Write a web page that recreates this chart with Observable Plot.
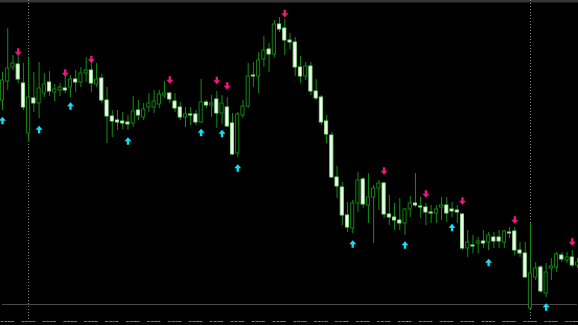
<!DOCTYPE html>
<html>
<head>
<meta charset="utf-8">
<script src="https://cdn.jsdelivr.net/npm/d3@7"></script>
<script src="https://cdn.jsdelivr.net/npm/@observablehq/plot@0.6"></script>
<style>
  html, body { margin: 0; padding: 0; background: #000; overflow: hidden; }
  #chart svg { display: block; background: #000; }
</style>
</head>
<body>
<div id="chart"></div>
<script>
// M15 candles
const open = [1.0900,1.0919,1.0933,1.0936,1.0917,1.0867,1.0902,1.0897,1.0907,1.0918,
  1.0908,1.0910,1.0912,1.0913,1.0921,1.0918,1.0927,1.0930,1.0916,1.0922,
  1.0900,1.0884,1.0880,1.0879,1.0878,1.0877,1.0890,1.0883,1.0893,1.0893,
  1.0896,1.0905,1.0907,1.0899,1.0893,1.0883,1.0886,1.0886,1.0878,1.0898,
  1.0895,1.0901,1.0887,1.0893,1.0877,1.0847,1.0885,1.0894,1.0925,1.0924,
  1.0941,1.0951,1.0946,1.0976,1.0972,1.0960,1.0958,1.0933,1.0924,1.0934,
  1.0909,1.0903,1.0879,1.0865,1.0823,1.0813,1.0785,1.0772,1.0797,1.0821,
  1.0795,1.0803,1.0812,1.0817,1.0786,1.0783,1.0780,1.0777,1.0791,1.0797,
  1.0794,1.0793,1.0788,1.0787,1.0793,1.0795,1.0791,1.0790,1.0786,1.0752,
  1.0755,1.0757,1.0759,1.0758,1.0763,1.0763,1.0758,1.0768,1.0769,1.0750,
  1.0747,1.0692,1.0723,1.0733,1.0707,1.0732,1.0733,1.0745,1.0740,1.0743,
  1.0735];
const high = [1.0928,1.0972,1.0945,1.0945,1.0937,1.0942,1.0928,1.0938,1.0927,1.0929,
  1.0916,1.0917,1.0926,1.0925,1.0930,1.0933,1.0943,1.0937,1.0937,1.0926,
  1.0913,1.0890,1.0890,1.0888,1.0885,1.0904,1.0900,1.0897,1.0907,1.0910,
  1.0910,1.0919,1.0908,1.0907,1.0898,1.0893,1.0893,1.0890,1.0921,1.0900,
  1.0905,1.0909,1.0905,1.0903,1.0887,1.0888,1.0900,1.0937,1.0938,1.0948,
  1.0964,1.0957,1.0980,1.0983,1.0981,1.0967,1.0963,1.0944,1.0938,1.0938,
  1.0921,1.0905,1.0885,1.0868,1.0834,1.0818,1.0798,1.0800,1.0828,1.0823,
  1.0827,1.0815,1.0820,1.0818,1.0805,1.0797,1.0802,1.0792,1.0804,1.0827,
  1.0803,1.0797,1.0795,1.0795,1.0803,1.0803,1.0798,1.0795,1.0787,1.0770,
  1.0765,1.0763,1.0770,1.0768,1.0768,1.0770,1.0770,1.0773,1.0773,1.0758,
  1.0758,1.0777,1.0738,1.0735,1.0737,1.0742,1.0748,1.0748,1.0748,1.0750,
  1.0742];
const low = [1.0890,1.0910,1.0930,1.0917,1.0890,1.0858,1.0888,1.0882,1.0903,1.0904,
  1.0899,1.0904,1.0907,1.0903,1.0908,1.0913,1.0918,1.0908,1.0913,1.0897,
  1.0857,1.0863,1.0870,1.0871,1.0870,1.0873,1.0880,1.0880,1.0888,1.0887,
  1.0892,1.0902,1.0897,1.0888,1.0880,1.0873,1.0875,1.0875,1.0877,1.0892,
  1.0883,1.0872,1.0876,1.0873,1.0845,1.0843,1.0882,1.0892,1.0913,1.0907,
  1.0933,1.0928,1.0943,1.0968,1.0945,1.0951,1.0924,1.0917,1.0920,1.0905,
  1.0900,1.0875,1.0857,1.0822,1.0802,1.0775,1.0768,1.0767,1.0788,1.0792,
  1.0777,1.0757,1.0790,1.0782,1.0775,1.0770,1.0770,1.0765,1.0783,1.0793,
  1.0782,1.0775,1.0777,1.0777,1.0780,1.0778,1.0783,1.0777,1.0750,1.0743,
  1.0747,1.0747,1.0752,1.0750,1.0752,1.0752,1.0752,1.0762,1.0745,1.0743,
  1.0723,1.0691,1.0720,1.0707,1.0703,1.0720,1.0728,1.0738,1.0737,1.0733,
  1.0732];
const close = [1.0920,1.0932,1.0937,1.0921,1.0893,1.0903,1.0897,1.0912,1.0916,1.0909,
  1.0911,1.0913,1.0910,1.0921,1.0918,1.0927,1.0930,1.0917,1.0921,1.0900,
  1.0884,1.0879,1.0878,1.0877,1.0876,1.0889,1.0885,1.0891,1.0897,1.0899,
  1.0906,1.0907,1.0901,1.0892,1.0883,1.0886,1.0885,1.0878,1.0898,1.0895,
  1.0897,1.0887,1.0897,1.0874,1.0846,1.0886,1.0894,1.0924,1.0924,1.0940,
  1.0950,1.0946,1.0976,1.0971,1.0960,1.0958,1.0933,1.0924,1.0934,1.0909,
  1.0902,1.0878,1.0866,1.0823,1.0814,1.0785,1.0773,1.0797,1.0820,1.0796,
  1.0803,1.0812,1.0817,1.0786,1.0783,1.0780,1.0777,1.0791,1.0797,1.0795,
  1.0793,1.0788,1.0787,1.0791,1.0795,1.0787,1.0789,1.0788,1.0752,1.0758,
  1.0754,1.0759,1.0757,1.0765,1.0759,1.0759,1.0769,1.0767,1.0750,1.0747,
  1.0723,1.0727,1.0732,1.0709,1.0728,1.0734,1.0746,1.0741,1.0743,1.0735,
  1.0738];

// signal arrows: candle index and price level
const sellIdx   = [3, 12, 17, 32, 41, 43, 54, 73, 81, 88, 98, 109];
const sellPrice = [1.09485,1.09275,1.0941,1.09205,1.0920,1.09145,1.0987,1.08295,1.08065,1.07995,1.07805,1.07585];
const buyIdx    = [0, 7, 13, 24, 38, 42, 45, 67, 77, 86, 93, 104];
const buyPrice  = [1.0880,1.0871,1.08945,1.08595,1.0868,1.0867,1.08325,1.07565,1.07555,1.0773,1.0738,1.06935];

// day separators and horizontal level
const separators = [5, 101];
const hLevel = [1.0696];

// time axis labels (every hour)
const timeLabels = ["11 Apr 23:00","12 Apr 00:00","12 Apr 01:00","12 Apr 02:00","12 Apr 03:00",
  "12 Apr 04:00","12 Apr 05:00","12 Apr 06:00","12 Apr 07:00","12 Apr 08:00","12 Apr 09:00",
  "12 Apr 10:00","12 Apr 11:00","12 Apr 12:00","12 Apr 13:00","12 Apr 14:00","12 Apr 15:00",
  "12 Apr 16:00","12 Apr 17:00","12 Apr 18:00","12 Apr 19:00","12 Apr 20:00","12 Apr 21:00",
  "12 Apr 22:00","12 Apr 23:00","13 Apr 00:00","13 Apr 01:00","13 Apr 02:00"];
const timeLabelIdx = [1,5,9,13,17,21,25,29,33,37,41,45,49,53,57,61,65,69,73,77,81,85,89,93,97,101,105,109];

const candles = open.map((o, i) => ({i, open: o, high: high[i], low: low[i], close: close[i], bull: close[i] >= o}));
const sells = sellIdx.map((i, k) => ({i, y: sellPrice[k]}));
const buys = buyIdx.map((i, k) => ({i, y: buyPrice[k]}));
const ticks = timeLabelIdx.map((i, k) => ({i, t: timeLabels[k]}));

const arrowDown = {
  draw(ctx, size) {
    const r = Math.sqrt(size / Math.PI);
    const w = r, sw = r * 0.34, h = r * 1.05, m = -r * 0.05;
    ctx.moveTo(-sw, -h); ctx.lineTo(sw, -h); ctx.lineTo(sw, m); ctx.lineTo(w, m);
    ctx.lineTo(0, h); ctx.lineTo(-w, m); ctx.lineTo(-sw, m); ctx.closePath();
  }
};
const arrowUp = {
  draw(ctx, size) {
    const r = Math.sqrt(size / Math.PI);
    const w = r, sw = r * 0.34, h = r * 1.05, m = r * 0.05;
    ctx.moveTo(-sw, h); ctx.lineTo(sw, h); ctx.lineTo(sw, m); ctx.lineTo(w, m);
    ctx.lineTo(0, -h); ctx.lineTo(-w, m); ctx.lineTo(-sw, m); ctx.closePath();
  }
};

const green = "#128f12";
const half = 0.3;

const chart = Plot.plot({
  width: 578,
  height: 325,
  marginTop: 0,
  marginBottom: 12,
  marginLeft: 2,
  marginRight: 1,
  style: {background: "#000"},
  x: {domain: [0, 110], axis: null},
  y: {domain: [1.0687, 1.1000], axis: null},
  marks: [
    Plot.frame({stroke: "#363636", strokeWidth: 4, insetLeft: -10, insetRight: -10, insetBottom: -60}),
    Plot.ruleX(separators, {x: d => d, stroke: "#8a8a8a", strokeDasharray: "1,2", insetBottom: -6}),
    Plot.ruleY(hLevel, {y: d => d, stroke: "#4a4a4a", strokeWidth: 1}),
    Plot.ruleX(candles, {x: "i", y1: "low", y2: "high", stroke: green, strokeWidth: 1}),
    Plot.rect(candles, {
      x1: d => d.i - half, x2: d => d.i + half,
      y1: "open", y2: "close",
      fill: d => d.bull ? "#000" : "#f6fff3",
      stroke: d => d.bull ? green : "#8ee38a",
      strokeWidth: 0.9
    }),
    Plot.dot(sells, {x: "i", y: "y", symbol: arrowDown, r: 3.5, fill: "#f2157f", stroke: null}),
    Plot.dot(buys, {x: "i", y: "y", symbol: arrowUp, r: 3.5, fill: "#12def7", stroke: null}),
    Plot.text(ticks, {x: "i", frameAnchor: "bottom", dy: 8, dx: -0.5, text: "t", fill: "#dde1ec",
      fontSize: 2.3, fontWeight: "bold", fontFamily: "Liberation Sans", textAnchor: "middle"})
  ]
});
document.getElementById("chart").append(chart);
</script>
</body>
</html>
